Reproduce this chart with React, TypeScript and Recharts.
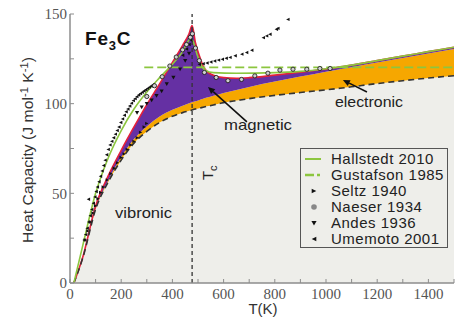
import React from 'react';
import { ComposedChart, Area, Line, Scatter, XAxis, YAxis, ReferenceLine, ReferenceDot } from 'recharts';

// ---- model curves (Cp in J mol^-1 K^-1) ----
const modelT = [15, 50, 100, 150, 200, 250, 300, 350, 400, 440, 465, 477, 490, 506, 520, 535, 560, 600, 650, 700, 800, 900, 1000, 1055, 1100, 1200, 1300, 1400, 1500];
const vibronicCp = [0, 14, 41, 56.5, 68.5, 78, 84.5, 89.5, 93, 95, 96, 96.5, 97, 97.5, 98, 98.5, 99.3, 100.6, 101.7, 102.8, 104.6, 106.2, 107.7, 108.6, 109.4, 111.2, 112.8, 114.3, 115.6];
const electronicCp = [0, 14.2, 41.6, 57.5, 70.3, 80.3, 87.3, 92.8, 96.6, 98.9, 100.2, 100.8, 101.4, 102.1, 102.8, 103.4, 104.4, 106, 107.6, 109.3, 112.3, 115.1, 117.8, 119.2, 120.3, 122.9, 125.5, 128, 130.5];
const totalCp = [0, 14.5, 43, 60, 74, 87, 99.5, 111, 123, 132.5, 139, 143.5, 134, 126.5, 121, 118, 115.8, 114.5, 114.2, 114.5, 115.9, 117.5, 119.3, 120.5, 121.5, 124, 126.5, 129, 131.5];

const hallstedtT = [15, 50, 100, 150, 200, 250, 300, 350, 400, 440, 470, 480, 495, 510, 530, 560, 650, 800, 900, 1000, 1100, 1200, 1300, 1400, 1500];
const hallstedtCp = [0, 21, 50, 70, 85, 97, 106.5, 114.5, 122, 129, 136, 135, 128, 122, 118.5, 117.3, 117, 117.3, 118, 119.5, 121.5, 124, 126.5, 129, 131.5];

const gustafsonT = [290, 1500];
const gustafsonCp = [120.2, 120.2];

// ---- experimental data ----
const seltzT = [60, 70, 80, 90, 100, 110, 120, 130, 146, 160, 173, 186, 200, 212, 224, 238, 250, 263, 276, 290, 300];
const seltzCp = [24, 29, 34, 39, 43, 47, 50.5, 53.5, 57.5, 61, 64, 67, 70, 72, 74.5, 77, 79, 81, 84, 87, 89];

const naeserT = [300, 330, 360, 390, 415, 440, 455, 470, 478, 490, 505, 525, 571, 617, 670, 722, 773, 820, 871, 925, 976, 1016];
const naeserCp = [104, 110, 115, 121, 126, 130, 133, 137, 139, 131, 124, 117.4, 114.6, 112.8, 113.5, 115.5, 117, 118.7, 119.2, 119.2, 119.6, 119.6];

const andesT = [262, 280, 300, 319, 338, 358, 378, 404, 430, 450, 465];
const andesCp = [95, 98, 100, 102, 104.5, 107, 111, 114.6, 119.3, 124, 128];

const umemotoT = [55, 61, 67, 72, 73, 79, 85, 91, 97, 102, 107, 113, 119, 125, 131, 137, 143, 149, 156, 163, 170, 177, 184, 191, 198, 205, 212, 219, 226, 233, 240, 247, 254, 261, 268, 275, 282, 289, 296, 303, 310, 317, 324, 440, 455, 465, 472, 505, 520, 535, 550, 565, 580, 595, 610, 625, 645, 671, 690, 710, 755, 768, 781, 806, 812, 851];
const umemotoCp = [24, 27, 30.5, 46.7, 34, 37.5, 41, 44.5, 48, 51, 53.5, 56.5, 59.5, 62.5, 65.5, 68.5, 71.5, 74.5, 77, 79, 81, 83, 85, 87, 89.5, 91.5, 93.5, 95.5, 97, 98.7, 100.3, 101.7, 102.8, 103.9, 104.8, 105.6, 106.4, 107.1, 107.8, 108.5, 109.2, 109.8, 110.6, 127, 130.5, 133, 135.5, 122, 122.3, 122.7, 123.2, 123.8, 124.3, 124.8, 125.3, 125.8, 126.7, 127.6, 128.5, 129.8, 136.8, 137.8, 138.7, 141.5, 142, 147];

const tcT = 477;
const xTicks = [0, 100, 200, 300, 400, 500, 600, 700, 800, 900, 1000, 1100, 1200, 1300, 1400, 1500];
const yTicks = [0, 25, 50, 75, 100, 125, 150];
const legendLabels = ['Hallstedt 2010', 'Gustafson 1985', 'Seltz 1940', 'Naeser 1934', 'Andes 1936', 'Umemoto 2001'];

// ---- tables built from the arrays ----
const modelData = modelT.map((T, i) => ({
  T,
  vib: vibronicCp[i],
  total: totalCp[i],
  vibBand: [0, vibronicCp[i]],
  elecBand: [vibronicCp[i], electronicCp[i]],
  magBand: [electronicCp[i], totalCp[i]],
}));
const pts = (xs: number[], ys: number[], key: string) => xs.map((T, i) => ({ T, [key]: ys[i] }));
const hallstedtData = pts(hallstedtT, hallstedtCp, 'cp');
const gustafsonData = pts(gustafsonT, gustafsonCp, 'cp');
const seltzData = pts(seltzT, seltzCp, 'cp');
const naeserData = pts(naeserT, naeserCp, 'cp');
const andesData = pts(andesT, andesCp, 'cp');
const umemotoData = pts(umemotoT, umemotoCp, 'cp');

// ---- styles ----
const GREEN = '#8cc63f';
const RED = '#e4203b';
const PURPLE = '#6530a3';
const ORANGE = '#f6a700';
const GRAY = '#eeeeea';
const AXIS = '#8c8c8c';
const SANS = '"Liberation Sans", Arial, sans-serif';
const SERIF = '"Liberation Serif", "Times New Roman", serif';

const tri = (cx: number, cy: number, dir: string, s: number) => {
  if (dir === 'right') return `M${cx - s},${cy - s} L${cx + s},${cy} L${cx - s},${cy + s} Z`;
  if (dir === 'left') return `M${cx + s},${cy - s} L${cx - s},${cy} L${cx + s},${cy + s} Z`;
  return `M${cx - s},${cy - s * 0.8} L${cx + s},${cy - s * 0.8} L${cx},${cy + s} Z`;
};

const RightTri = (p: any) => <path d={tri(p.cx, p.cy, 'right', 1.7)} fill="#111" />;
const LeftTri = (p: any) => <path d={tri(p.cx, p.cy, 'left', 1.7)} fill="#111" />;
const DownTri = (p: any) => <path d={tri(p.cx, p.cy, 'down', 2.1)} fill="#111" />;
const OpenCircle = (p: any) => <circle cx={p.cx} cy={p.cy} r={2.1} fill="#cfcfcf" stroke="#222" strokeWidth={0.9} />;

const XTick = (p: any) => {
  const v = p.payload.value;
  if (v % 200 !== 0) return <g />;
  return (
    <text x={p.x} y={p.y} dy="0.71em" textAnchor="middle" fill="#555" style={{ fontFamily: SERIF, fontSize: 15 }}>
      {v}
    </text>
  );
};
const YTick = (p: any) => {
  const v = p.payload.value;
  if (v % 50 !== 0) return <g />;
  return (
    <text x={p.x} y={p.y} dy="0.355em" textAnchor="end" fill="#555" style={{ fontFamily: SERIF, fontSize: 15 }}>
      {v}
    </text>
  );
};

const Arrow = (p: any) => {
  const { x1, y1, x2, y2 } = p;
  const a = Math.atan2(y2 - y1, x2 - x1);
  const L = 7, W = 3.2;
  const bx = x2 - L * Math.cos(a), by = y2 - L * Math.sin(a);
  const nx = -Math.sin(a) * W, ny = Math.cos(a) * W;
  return (
    <g>
      <line x1={x1} y1={y1} x2={bx} y2={by} stroke="#111" strokeWidth={1.6} />
      <path d={`M${x2},${y2} L${bx + nx},${by + ny} L${bx - nx},${by - ny} Z`} fill="#111" />
    </g>
  );
};

const textShape = (label: string, len: number) => (p: any) => (
  <text x={p.cx} y={p.cy} style={{ fontFamily: SANS, fontSize: 15 }} fill="#222" textLength={len} lengthAdjust="spacingAndGlyphs">
    {label}
  </text>
);
const FeShape = (p: any) => (
  <text x={p.cx} y={p.cy} style={{ fontFamily: SANS, fontSize: 19, fontWeight: 'bold' }} fill="#111" letterSpacing={0.8}>
    Fe<tspan fontSize={13} dy={5}>3</tspan><tspan dy={-5}>C</tspan>
  </text>
);
const TcShape = (p: any) => (
  <text x={p.cx} y={p.cy} transform={`rotate(-90 ${p.cx} ${p.cy})`} style={{ fontFamily: SANS, fontSize: 15 }} fill="#222">
    T<tspan fontSize={11} dy={4}>c</tspan>
  </text>
);

const LegendSymbol = ({ i }: { i: number }) => {
  const c = 9, m = 8;
  let el: React.ReactNode = null;
  if (i === 0) el = <line x1={4} y1={m} x2={20} y2={m} stroke={GREEN} strokeWidth={2} />;
  else if (i === 1) el = <line x1={4} y1={m} x2={22} y2={m} stroke={GREEN} strokeWidth={2.5} strokeDasharray="9 3 3 3" />;
  else if (i === 2) el = <path d={tri(c + 4, m, 'right', 2.3)} fill="#111" />;
  else if (i === 3) el = <circle cx={c + 4} cy={m} r={2.8} fill="#888" />;
  else if (i === 4) el = <path d={tri(c + 4, m, 'down', 2.6)} fill="#111" />;
  else el = <path d={tri(c + 4, m, 'left', 2.3)} fill="#111" />;
  return (
    <svg width={30} height={16} style={{ display: 'block' }}>
      {el}
    </svg>
  );
};

export default function App() {
  return (
    <div style={{ position: 'absolute', left: 0, top: 0, width: 463, height: 322, background: '#fff' }}>
      <ComposedChart width={463} height={322} margin={{ top: 14, right: 9, bottom: 9, left: 30 }}>
        <XAxis
          type="number"
          dataKey="T"
          domain={[0, 1500]}
          ticks={xTicks}
          interval={0}
          height={30}
          tickSize={-4}
          tickMargin={9}
          tick={XTick}
          axisLine={{ stroke: AXIS, strokeWidth: 1.5 }}
          tickLine={{ stroke: AXIS, strokeWidth: 1 }}
          allowDataOverflow
        />
        <XAxis
          xAxisId="top"
          orientation="top"
          type="number"
          dataKey="T"
          domain={[0, 1500]}
          ticks={xTicks}
          interval={0}
          height={0}
          tickSize={-4}
          tick={false}
          axisLine={{ stroke: AXIS, strokeWidth: 1.5 }}
          tickLine={{ stroke: AXIS, strokeWidth: 1 }}
        />
        <YAxis
          type="number"
          domain={[0, 150]}
          ticks={yTicks}
          interval={0}
          width={40}
          tickSize={-4}
          tickMargin={7}
          tick={YTick}
          axisLine={{ stroke: AXIS, strokeWidth: 1.5 }}
          tickLine={{ stroke: AXIS, strokeWidth: 1 }}
          allowDataOverflow
        />
        <YAxis
          yAxisId="right"
          orientation="right"
          type="number"
          domain={[0, 150]}
          ticks={yTicks}
          interval={0}
          width={0}
          tickSize={-4}
          tick={false}
          axisLine={{ stroke: AXIS, strokeWidth: 1.5 }}
          tickLine={{ stroke: AXIS, strokeWidth: 1 }}
        />

        <Area data={modelData} dataKey="vibBand" type="monotone" fill={GRAY} fillOpacity={1} stroke="none" isAnimationActive={false} />
        <Area data={modelData} dataKey="elecBand" type="monotone" fill={ORANGE} fillOpacity={1} stroke="none" isAnimationActive={false} />
        <Area data={modelData} dataKey="magBand" type="monotone" fill={PURPLE} fillOpacity={1} stroke="none" isAnimationActive={false} />
        <Line data={modelData} dataKey="total" type="monotone" stroke={RED} strokeWidth={1.6} dot={false} isAnimationActive={false} />
        <Line data={modelData} dataKey="vib" type="monotone" stroke="#333" strokeWidth={1.6} strokeDasharray="6 4" dot={false} isAnimationActive={false} />
        <Line data={gustafsonData} dataKey="cp" type="linear" stroke={GREEN} strokeWidth={1.8} strokeDasharray="9 4" dot={false} isAnimationActive={false} />
        <Line data={hallstedtData} dataKey="cp" type="monotone" stroke={GREEN} strokeWidth={1.6} dot={false} isAnimationActive={false} />

        <ReferenceLine x={tcT} stroke="#333" strokeWidth={1.3} strokeDasharray="4 3" />

        <Scatter data={seltzData} dataKey="cp" shape={RightTri} isAnimationActive={false} />
        <Scatter data={andesData} dataKey="cp" shape={DownTri} isAnimationActive={false} />
        <Scatter data={umemotoData} dataKey="cp" shape={LeftTri} isAnimationActive={false} />
        <Scatter data={naeserData} dataKey="cp" shape={OpenCircle} isAnimationActive={false} />

        <ReferenceLine segment={[{ x: 691, y: 89.8 }, { x: 539, y: 109.3 }]} shape={Arrow} />
        <ReferenceLine segment={[{ x: 1160, y: 106.5 }, { x: 1066, y: 113.2 }]} shape={Arrow} />

        <ReferenceDot x={58.6} y={132.7} r={0} shape={FeShape} />
        <ReferenceDot x={601.6} y={85.3} r={0} shape={textShape('magnetic', 68)} />
        <ReferenceDot x={1035} y={98.1} r={0} shape={textShape('electronic', 68)} />
        <ReferenceDot x={175.8} y={36.2} r={0} shape={textShape('vibronic', 57)} />
        <ReferenceDot x={558.6} y={57.4} r={0} shape={TcShape} />
      </ComposedChart>

      <svg width={463} height={322} style={{ position: 'absolute', left: 0, top: 0, pointerEvents: 'none' }}>
        <text
          x={33}
          y={150}
          transform="rotate(-90 33 150)"
          textAnchor="middle"
          style={{ fontFamily: SANS, fontSize: 14 }}
          fill="#333"
          textLength={186}
          lengthAdjust="spacingAndGlyphs"
        >
          Heat Capacity (J mol<tspan fontSize={10} dy={-5}>-1</tspan><tspan dy={5}> K</tspan><tspan fontSize={10} dy={-5}>-1</tspan><tspan dy={5}>)</tspan>
        </text>
        <text x={263} y={314} textAnchor="middle" style={{ fontFamily: SANS, fontSize: 15 }} fill="#333">
          T(K)
        </text>
      </svg>

      <div
        style={{
          position: 'absolute',
          left: 300,
          top: 148,
          width: 148,
          height: 100,
          boxSizing: 'border-box',
          border: '1px solid #555',
          background: GRAY,
          paddingTop: 2,
          fontFamily: SANS,
          fontSize: 15,
          color: '#222',
        }}
      >
        {legendLabels.map((lab, i) => (
          <div key={lab} style={{ display: 'flex', alignItems: 'center', height: 16 }}>
            <LegendSymbol i={i} />
            <span style={{ letterSpacing: 0.5, whiteSpace: 'nowrap', lineHeight: '16px' }}>{lab}</span>
          </div>
        ))}
      </div>
    </div>
  );
}
